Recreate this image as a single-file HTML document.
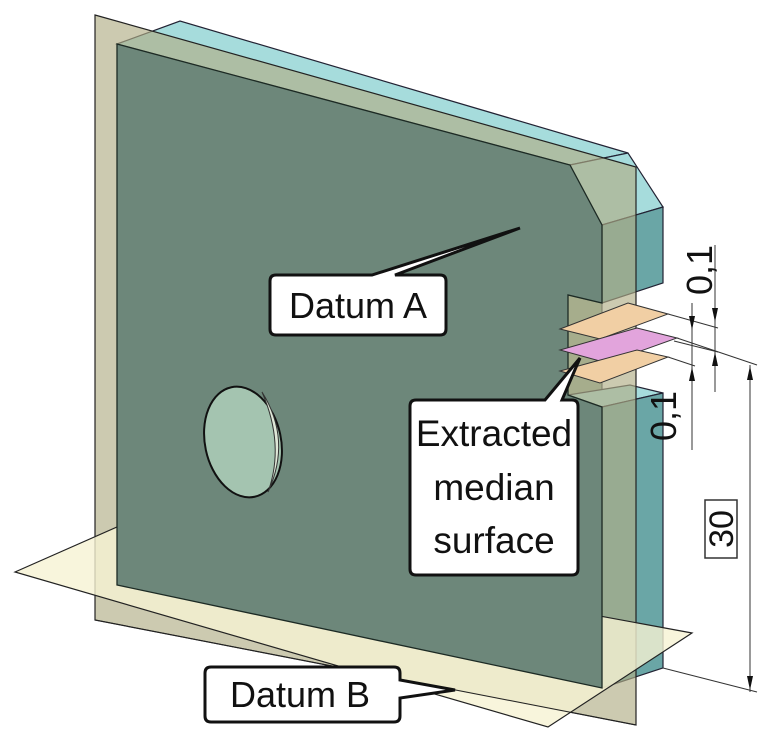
<!DOCTYPE html>
<html><head><meta charset="utf-8"><style>
html,body{margin:0;padding:0;background:#fff;}
svg{display:block;}
text{font-family:"Liberation Sans",Arial,sans-serif;fill:#111;}
</style></head><body>
<svg width="770" height="739" viewBox="0 0 770 739" xmlns="http://www.w3.org/2000/svg">
<!-- slab top face -->
<polygon points="117,44 180,21 628,153 570,165" fill="#a6dcdc" stroke="#223" stroke-width="1.2"/>
<polygon points="570,165 628,153 663,207 602,225" fill="#a6dcdc" stroke="#223" stroke-width="1.2"/>
<polygon points="602,225 663,207 663,283 602,303" fill="#6aa6a6" stroke="#223" stroke-width="1.2"/>
<polygon points="568,295 602,303 602,405 568,395" fill="#93ad98" stroke="#223" stroke-width="1"/>
<polygon points="568,395 630,385 663,393 602,407" fill="#a6dcdc" stroke="#223" stroke-width="1.2"/>
<polygon points="602,407 663,393 663,668 602,688" fill="#6aa6a6" stroke="#223" stroke-width="1.2"/>
<!-- Datum A plane -->
<polygon points="95,15 636,167 636,725 95,620" fill="#b0ad86" fill-opacity="0.65" stroke="#222" stroke-width="1.2"/>
<!-- Datum B plane -->
<polygon points="15,572 117,527 692,633 548,727" fill="#f6f3d3" fill-opacity="0.8" stroke="#222" stroke-width="1.2"/>
<line x1="95" y1="620" x2="636" y2="725" stroke="#222" stroke-width="1"/>
<!-- front face -->
<polygon points="117,44 570,165 602,225 602,303 568,295 568,395 602,407 602,688 117,585" fill="#6d877a" stroke="#1c2a24" stroke-width="1.3"/>
<!-- hole -->
<ellipse cx="243" cy="442" rx="38" ry="56" transform="rotate(-12 243 442)" fill="#a4c4b0" stroke="#111" stroke-width="2"/>
<path d="M262,392 Q292,440 268,492 Q285,445 262,392 Z" fill="#dfe8d8" stroke="#333" stroke-width="1"/>
<!-- small planes -->
<polygon points="560,329 628,303 668,314 600,339" fill="#f1cfa4" stroke="#333" stroke-width="1"/>
<polygon points="560,350 637,328 677,338 607,363" fill="#e2a4dc" stroke="#333" stroke-width="1"/>
<polygon points="560,371 637,350 668,357 600,383" fill="#f1cfa4" stroke="#333" stroke-width="1"/>
<!-- extension lines -->
<g stroke="#333" stroke-width="1" fill="none">
<line x1="668" y1="314" x2="718" y2="328"/>
<line x1="677" y1="338" x2="757" y2="365"/>
<line x1="674" y1="341" x2="718" y2="352"/>
<line x1="668" y1="357" x2="695" y2="366"/>
<line x1="663" y1="668" x2="757" y2="692"/>
<line x1="715" y1="245" x2="715" y2="392"/>
<line x1="692" y1="303" x2="692" y2="450"/>
<line x1="750" y1="365" x2="750" y2="692"/>
</g>
<g fill="#111">
<polygon points="715,322 712,308 718,308"/>
<polygon points="715,352 712,366 718,366"/>
<polygon points="692,330 689,316 695,316"/>
<polygon points="692,367 689,381 695,381"/>
<polygon points="750,366 747,380 753,380"/>
<polygon points="750,690 747,676 753,676"/>
</g>
<text transform="translate(712,270) rotate(-90)" font-size="36" text-anchor="middle">0,1</text>
<text transform="translate(676,416) rotate(-90)" font-size="36" text-anchor="middle">0,1</text>
<rect x="705" y="500" width="32" height="58" fill="none" stroke="#333" stroke-width="1.5"/>
<text transform="translate(733,529) rotate(-90)" font-size="34" text-anchor="middle">30</text>
<!-- Datum A callout -->
<path d="M276,275 H372 L520,228 L395,275 H440 Q446,275 446,281 V329 Q446,335 440,335 H276 Q270,335 270,329 V281 Q270,275 276,275 Z" fill="#fff" stroke="#111" stroke-width="3"/>
<text x="358" y="318" font-size="36" text-anchor="middle">Datum A</text>
<!-- Extracted callout -->
<path d="M416,400 H545 L580,358 L562,400 H572 Q578,400 578,406 V569 Q578,575 572,575 H416 Q410,575 410,569 V406 Q410,400 416,400 Z" fill="#fff" stroke="#111" stroke-width="3"/>
<text x="494" y="446" font-size="37" text-anchor="middle">Extracted</text>
<text x="494" y="500" font-size="37" text-anchor="middle">median</text>
<text x="494" y="553" font-size="37" text-anchor="middle">surface</text>
<!-- Datum B callout -->
<path d="M211,667 H394 Q400,667 400,673 V680 L455,690 L400,698 V716 Q400,722 394,722 H211 Q205,722 205,716 V673 Q205,667 211,667 Z" fill="#fff" stroke="#111" stroke-width="3"/>
<text x="300" y="707" font-size="36" text-anchor="middle">Datum B</text>
</svg>
</body></html>
